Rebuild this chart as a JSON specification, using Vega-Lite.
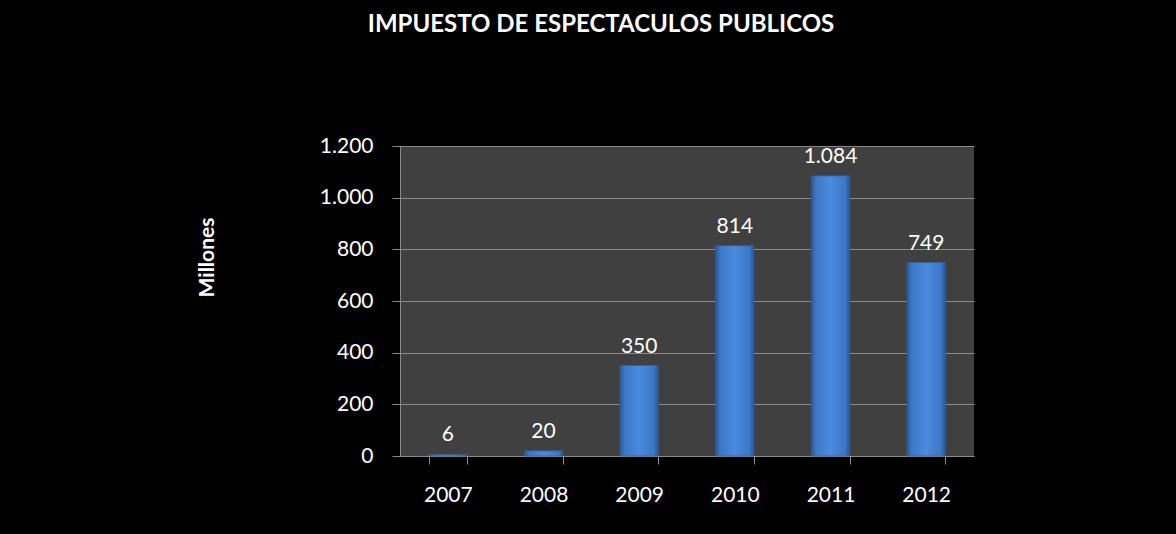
{
  "$schema": "https://vega.github.io/schema/vega-lite/v6.json",
  "autosize": {"type": "none"},
  "width": 574,
  "height": 310,
  "padding": {"left": 400, "top": 146, "right": 202, "bottom": 78},
  "background": "#000000",
  "title": {
    "text": "IMPUESTO DE ESPECTACULOS PUBLICOS",
    "anchor": "middle",
    "frame": "group",
    "dx": -86,
    "offset": 79,
    "baseline": "alphabetic",
    "font": "Lato",
    "fontSize": 24,
    "fontWeight": "bold",
    "color": "#ffffff"
  },
  "data": {
    "values": [
      {"year": "2007", "value": 6},
      {"year": "2008", "value": 20},
      {"year": "2009", "value": 350},
      {"year": "2010", "value": 814},
      {"year": "2011", "value": 1084},
      {"year": "2012", "value": 749}
    ]
  },
  "encoding": {
    "x": {
      "field": "year",
      "type": "nominal",
      "sort": null,
      "scale": {"paddingInner": 0.6, "paddingOuter": 0.3},
      "axis": {
        "title": null,
        "labelAngle": 0,
        "tickBand": "extent",
        "tickSize": 8,
        "tickColor": "#8a8a8a",
        "domainColor": "#8a8a8a",
        "labelPadding": 20,
        "labelFont": "Lato",
        "labelFontSize": 21,
        "labelColor": "#ffffff"
      }
    },
    "y": {
      "field": "value",
      "type": "quantitative",
      "scale": {"domain": [0, 1200], "nice": false},
      "axis": {
        "title": "Millones",
        "titleFont": "Lato",
        "titleFontSize": 21,
        "titleFontWeight": "bold",
        "titleColor": "#ffffff",
        "titleX": -193,
        "titleY": 111,
        "titleAngle": -90,
        "titleAlign": "center",
        "titleBaseline": "middle",
        "values": [0, 200, 400, 600, 800, 1000, 1200],
        "format": ",.0f",
        "tickSize": 8,
        "tickColor": "#8a8a8a",
        "domainColor": "#8a8a8a",
        "gridColor": "#8a8a8a",
        "gridWidth": 1.2,
        "labelPadding": 19,
        "labelFont": "Lato",
        "labelFontSize": 21,
        "labelColor": "#ffffff"
      }
    }
  },
  "layer": [
    {
      "mark": {
        "type": "bar",
        "color": {
          "gradient": "linear",
          "x1": 0, "y1": 0, "x2": 1, "y2": 0,
          "stops": [
            {"offset": 0, "color": "#2a5690"},
            {"offset": 0.12, "color": "#3d78c8"},
            {"offset": 0.5, "color": "#4a8ade"},
            {"offset": 0.88, "color": "#3d78c8"},
            {"offset": 1, "color": "#2a5690"}
          ]
        },
        "stroke": "#2f62a6",
        "strokeWidth": 0.8
      }
    },
    {
      "mark": {
        "type": "text",
        "baseline": "alphabetic",
        "dy": -13,
        "font": "Lato",
        "fontSize": 21,
        "color": "#ffffff"
      },
      "encoding": {
        "text": {"field": "value", "type": "quantitative", "format": ",.0f"}
      }
    }
  ],
  "config": {
    "locale": {
      "number": {"decimal": ",", "thousands": ".", "grouping": [3], "currency": ["$", ""]}
    },
    "view": {"fill": "#404040", "stroke": null}
  }
}
